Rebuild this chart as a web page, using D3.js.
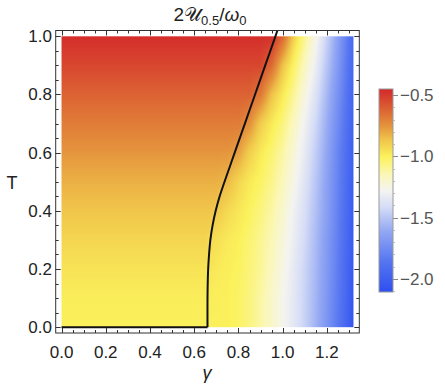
<!DOCTYPE html>
<html><head><meta charset="utf-8">
<script src="https://cdn.jsdelivr.net/npm/d3@7"></script>
<style>html,body{margin:0;padding:0;background:#fff;}svg{display:block;font-family:"Liberation Sans",Arial,sans-serif;}</style>
</head><body>
<svg id="c" width="445" height="390"></svg>
<script>
// ---- data ----
const gammaGrid = [0, 0.3, 0.6, 0.65, 0.7, 0.75, 0.8, 0.85, 0.9, 0.95, 1.0, 1.05, 1.1, 1.15, 1.2, 1.25, 1.3, 1.32];
const tempGrid = [0, 0.1, 0.2, 0.3, 0.4, 0.5, 0.6, 0.7, 0.8, 0.9, 1.0];
const fieldValues = [
  [-1.00,-1.00,-1.00,-1.00,-1.00,-1.00,-1.02,-1.06,-1.12,-1.19,-1.27,-1.35,-1.45,-1.57,-1.70,-1.84,-2.00,-2.08],
  [-0.99,-0.99,-0.99,-0.99,-0.995,-1.00,-1.02,-1.06,-1.12,-1.19,-1.27,-1.35,-1.45,-1.56,-1.69,-1.83,-1.99,-2.06],
  [-0.96,-0.96,-0.96,-0.96,-0.98,-0.995,-1.01,-1.05,-1.10,-1.17,-1.25,-1.34,-1.44,-1.55,-1.68,-1.82,-1.98,-2.05],
  [-0.92,-0.92,-0.92,-0.92,-0.95,-0.98,-1.00,-1.04,-1.09,-1.15,-1.23,-1.32,-1.42,-1.54,-1.67,-1.81,-1.97,-2.04],
  [-0.87,-0.87,-0.87,-0.87,-0.875,-0.93,-0.97,-1.01,-1.06,-1.12,-1.20,-1.30,-1.40,-1.52,-1.65,-1.80,-1.96,-2.03],
  [-0.82,-0.82,-0.82,-0.82,-0.82,-0.84,-0.92,-0.98,-1.02,-1.08,-1.16,-1.26,-1.37,-1.50,-1.64,-1.79,-1.95,-2.02],
  [-0.76,-0.76,-0.76,-0.76,-0.76,-0.76,-0.78,-0.90,-0.98,-1.04,-1.12,-1.22,-1.34,-1.47,-1.62,-1.78,-1.94,-2.01],
  [-0.69,-0.69,-0.69,-0.69,-0.69,-0.69,-0.69,-0.74,-0.89,-0.98,-1.06,-1.17,-1.30,-1.43,-1.59,-1.75,-1.92,-1.99],
  [-0.62,-0.62,-0.62,-0.62,-0.62,-0.62,-0.62,-0.62,-0.68,-0.86,-0.98,-1.10,-1.24,-1.38,-1.55,-1.72,-1.90,-1.97],
  [-0.54,-0.54,-0.54,-0.54,-0.54,-0.54,-0.54,-0.54,-0.54,-0.64,-0.86,-1.02,-1.17,-1.32,-1.50,-1.68,-1.88,-1.95],
  [-0.47,-0.47,-0.47,-0.47,-0.47,-0.47,-0.47,-0.47,-0.47,-0.47,-0.63,-0.90,-1.09,-1.26,-1.45,-1.65,-1.86,-1.94]
];
const boundaryGamma = [0, 0.66, 0.66, 0.661, 0.663, 0.667, 0.673, 0.683, 0.697, 0.715, 0.737, 0.760, 0.783, 0.829, 0.875, 0.921, 0.967, 0.985];
const boundaryT     = [0, 0,    0.10, 0.15,  0.20,  0.25,  0.30,  0.35,  0.40,  0.45,  0.50,  0.55,  0.60,  0.70,  0.80,  0.90,  1.00,  1.04];
const xTicks = [0, 0.2, 0.4, 0.6, 0.8, 1.0, 1.2];
const yTicks = [0, 0.2, 0.4, 0.6, 0.8, 1.0];
const barTicks = [-0.5, -1.0, -1.5, -2.0];
const colorValues = [-2.106, -1.86, -1.61, -1.41, -1.28, -1.15, -1.005, -0.865, -0.75, -0.617, -0.451];
const colorStops = ["#2e4ff0", "#5575f1", "#93a8f3", "#d6ddf6", "#f4f4f0", "#fbf7b8", "#fbf25c", "#f0c44a", "#e4923c", "#dc6233", "#d3282a"];
const vMin = -2.106, vMax = -0.451;

// ---- scales ----
const svg = d3.select("#c");
const fx0 = 55.7, fx1 = 359.3, fy0 = 30.5, fy1 = 333;
const x = d3.scaleLinear().domain([-0.0264, 1.3464]).range([fx0, fx1]);
const y = d3.scaleLinear().domain([-0.02, 1.02]).range([fy1, fy0]);
const color = d3.scaleLinear().domain(colorValues).range(colorStops).interpolate(d3.interpolateRgb).clamp(true);

// ---- heat map image ----
function fieldAt(g, t) {
  let i = Math.min(Math.max(d3.bisectRight(gammaGrid, g) - 1, 0), gammaGrid.length - 2);
  let j = Math.min(Math.max(d3.bisectRight(tempGrid, t) - 1, 0), tempGrid.length - 2);
  const u = Math.max(0, Math.min(1, (g - gammaGrid[i]) / (gammaGrid[i+1] - gammaGrid[i])));
  const v = Math.max(0, Math.min(1, (t - tempGrid[j]) / (tempGrid[j+1] - tempGrid[j])));
  const a = fieldValues[j][i], b = fieldValues[j][i+1], c = fieldValues[j+1][i], d = fieldValues[j+1][i+1];
  return (a*(1-u) + b*u)*(1-v) + (c*(1-u) + d*u)*v;
}
const gx0 = x(gammaGrid[0]), gx1 = x(gammaGrid[gammaGrid.length-1]);
const gy0 = y(tempGrid[tempGrid.length-1]), gy1 = y(tempGrid[0]);
const W = Math.round(gx1 - gx0), H = Math.round(gy1 - gy0);
const cv = document.createElement("canvas"); cv.width = W; cv.height = H;
const ctx = cv.getContext("2d");
const img = ctx.createImageData(W, H);
for (let py = 0; py < H; py++) {
  const t = y.invert(gy0 + (py + 0.5) * (gy1 - gy0) / H);
  for (let px = 0; px < W; px++) {
    const g = x.invert(gx0 + (px + 0.5) * (gx1 - gx0) / W);
    const col = d3.rgb(color(fieldAt(g, t)));
    const k = (py * W + px) * 4;
    img.data[k] = col.r; img.data[k+1] = col.g; img.data[k+2] = col.b; img.data[k+3] = 255;
  }
}
ctx.putImageData(img, 0, 0);
svg.append("image").attr("x", gx0).attr("y", gy0).attr("width", gx1 - gx0).attr("height", gy1 - gy0)
  .attr("preserveAspectRatio", "none").attr("href", cv.toDataURL());

// ---- boundary line ----
svg.append("defs").append("clipPath").attr("id", "fr").append("rect")
  .attr("x", fx0).attr("y", fy0).attr("width", fx1 - fx0).attr("height", fy1 - fy0);
const pts = boundaryGamma.map((g, i) => [g, boundaryT[i]]);
svg.append("path").attr("clip-path", "url(#fr)")
  .attr("d", d3.line().x(d => x(d[0])).y(d => y(d[1])).curve(d3.curveLinear)(pts.slice(0, 2)))
  .attr("fill", "none").attr("stroke", "#111").attr("stroke-width", 2);
svg.append("path").attr("clip-path", "url(#fr)")
  .attr("d", d3.line().x(d => x(d[0])).y(d => y(d[1])).curve(d3.curveCatmullRom.alpha(0.5))(pts.slice(1)))
  .attr("fill", "none").attr("stroke", "#111").attr("stroke-width", 2);

// ---- frame & ticks ----
const frameCol = "#333";
svg.append("rect").attr("x", fx0).attr("y", fy0).attr("width", fx1 - fx0).attr("height", fy1 - fy0)
  .attr("fill", "none").attr("stroke", frameCol).attr("stroke-width", 1);
const xMinor = d3.range(0, 1.3201, 0.05);
const yMinor = d3.range(0, 1.0001, 0.05);
const isMajor = (v, arr) => arr.some(m => Math.abs(m - v) < 1e-6);
const tk = svg.append("g").attr("stroke", frameCol).attr("stroke-width", 1);
xMinor.forEach(v => {
  const L = isMajor(v, xTicks) ? 5 : 3, px = Math.round(x(v)) + 0.5;
  tk.append("line").attr("x1", px).attr("x2", px).attr("y1", fy1).attr("y2", fy1 - L);
  tk.append("line").attr("x1", px).attr("x2", px).attr("y1", fy0).attr("y2", fy0 + L);
});
yMinor.forEach(v => {
  const L = isMajor(v, yTicks) ? 5 : 3, py = Math.round(y(v)) + 0.5;
  tk.append("line").attr("y1", py).attr("y2", py).attr("x1", fx0).attr("x2", fx0 + L);
  tk.append("line").attr("y1", py).attr("y2", py).attr("x1", fx1).attr("x2", fx1 - L);
});
const labCol = "#222";
svg.append("g").selectAll("text").data(xTicks).join("text")
  .attr("x", d => x(d)).attr("y", 358).attr("text-anchor", "middle")
  .attr("font-size", 17).attr("fill", labCol).text(d => d.toFixed(1));
svg.append("g").selectAll("text").data(yTicks).join("text")
  .attr("x", 52).attr("y", d => y(d) + 6).attr("text-anchor", "end")
  .attr("font-size", 17).attr("fill", labCol).text(d => d.toFixed(1));
svg.append("text").attr("x", 207).attr("y", 379).attr("text-anchor", "middle")
  .attr("font-size", 18).attr("font-style", "italic").attr("fill", labCol).text("γ");
svg.append("text").attr("x", 12).attr("y", 189).attr("text-anchor", "middle")
  .attr("font-size", 18).attr("fill", labCol).text("T");

// ---- title ----
const title = svg.append("text").attr("x", 210).attr("y", 21).attr("text-anchor", "middle")
  .attr("font-size", 19).attr("fill", labCol);
title.append("tspan").text("2");
title.append("tspan").text("𝒰");
title.append("tspan").attr("font-size", 13).attr("dy", 4).text("0.5");
title.append("tspan").attr("dy", -4).text("/");
title.append("tspan").attr("font-style", "italic").text("ω");
title.append("tspan").attr("font-size", 13).attr("dy", 4).text("0");

// ---- colorbar ----
const bx0 = 379, bx1 = 393, by0 = 89, by1 = 292;
const cb = d3.scaleLinear().domain([vMin, vMax]).range([by1, by0]);
const grad = svg.select("defs").append("linearGradient").attr("id", "cg")
  .attr("x1", 0).attr("y1", 1).attr("x2", 0).attr("y2", 0);
colorValues.forEach((v, i) => grad.append("stop")
  .attr("offset", (v - vMin) / (vMax - vMin)).attr("stop-color", colorStops[i]));
svg.append("rect").attr("x", bx0).attr("y", by0).attr("width", bx1 - bx0).attr("height", by1 - by0)
  .attr("fill", "url(#cg)").attr("stroke", "#9a9a9a").attr("stroke-width", 1);
const cbMinor = d3.range(-2.1, -0.449, 0.1);
cbMinor.forEach(v => {
  const py = Math.round(cb(v)) + 0.5;
  if (isMajor(v, barTicks)) return;
  svg.append("line").attr("x1", bx1).attr("x2", bx1 + 2).attr("y1", py).attr("y2", py)
    .attr("stroke", "#bbb").attr("stroke-width", 1);
});
barTicks.forEach(v => {
  const py = Math.round(cb(v)) + 0.5;
  svg.append("line").attr("x1", bx1).attr("x2", bx1 + 5).attr("y1", py).attr("y2", py)
    .attr("stroke", "#888").attr("stroke-width", 1);
});
svg.append("g").selectAll("text").data(barTicks).join("text")
  .attr("x", 400).attr("y", d => cb(d) + 6).attr("font-size", 17).attr("fill", "#555")
  .text(d => "\u2212" + Math.abs(d).toFixed(1));
</script>
</body></html>
